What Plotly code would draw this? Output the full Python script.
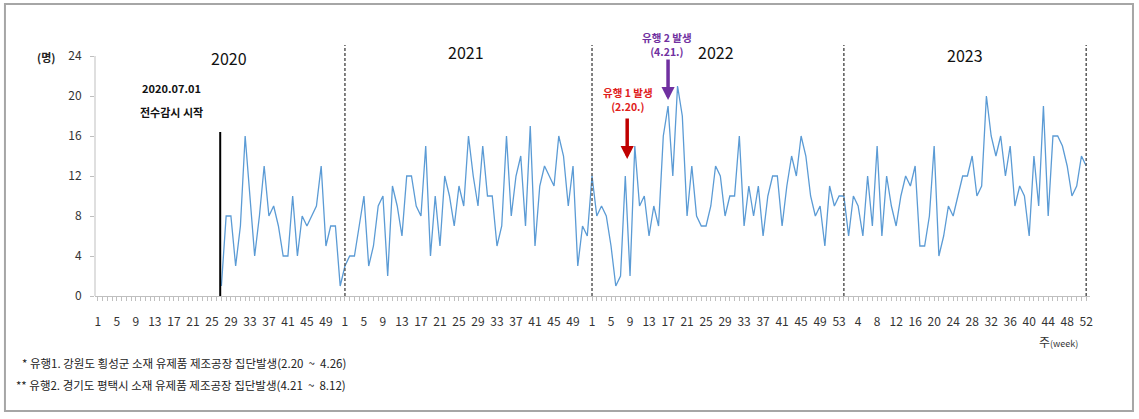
import plotly.graph_objects as go

# ---------------- data ----------------
years = ["2020", "2021", "2022", "2023"]
weeks_in_year = [52, 52, 53, 52]
first_week = [27, 1, 1, 1]          # 2020 surveillance starts at week 27

cases_2020 = [1, 8, 8, 3, 7, 16, 10, 4, 8, 13, 8, 9, 7, 4, 4, 10, 4, 8, 7, 8,
              9, 13, 5, 7, 7, 1]
cases_2021 = [3, 4, 4, 7, 10, 3, 5, 9, 10, 2, 11, 9, 6, 12, 12, 9, 8, 15, 4, 10,
              5, 12, 10, 7, 11, 9, 16, 12, 9, 15, 10, 10, 5, 7, 16, 8, 12, 14, 7, 17,
              5, 11, 13, 12, 11, 16, 14, 9, 13, 3, 7, 6]
cases_2022 = [12, 8, 9, 8, 5, 1, 2, 12, 2, 15, 9, 10, 6, 9, 7, 16, 19, 12, 21, 18,
              8, 13, 8, 7, 7, 9, 13, 12, 8, 10, 10, 16, 7, 11, 8, 11, 6, 10, 12, 12,
              7, 11, 14, 12, 16, 14, 10, 8, 9, 5, 11, 9, 10]
cases_2023 = [10, 6, 10, 9, 6, 12, 7, 15, 6, 12, 9, 7, 10, 12, 11, 13, 5, 5, 8, 15,
              4, 6, 9, 8, 10, 12, 12, 14, 10, 11, 20, 16, 14, 16, 12, 15, 9, 11, 10, 6,
              14, 9, 19, 8, 16, 16, 15, 13, 10, 11, 14, 13]
series = [cases_2020, cases_2021, cases_2022, cases_2023]

y_ticks = [0, 4, 8, 12, 16, 20, 24]
label_every = 4

# ---------------- build category positions ----------------
x_all, y_all = [], []
tickvals, ticktext = [], []
year_start = []
offset = 0
for n, fw, vals in zip(weeks_in_year, first_week, series):
    year_start.append(offset)
    for k, v in enumerate(vals):
        x_all.append(offset + (fw - 1) + k)
        y_all.append(v)
    for w in range(1, n + 1):
        idx = offset + w - 1
        tickvals.append(idx)
        ticktext.append(str(w) if idx % label_every == 0 else "")
    offset += n
last_idx = offset - 1

KR = "Noto Sans CJK KR"

fig = go.Figure()
fig.add_trace(go.Scatter(
    x=x_all, y=y_all, mode="lines",
    line=dict(color="#5B9BD5", width=1.3),
    hoverinfo="x+y", showlegend=False,
))

shapes = []
# year boundary dashed lines
for xs in year_start[1:] + [last_idx]:
    shapes.append(dict(type="line", xref="x", yref="y", x0=xs, x1=xs, y0=0, y1=25.1,
                       line=dict(color="#595959", width=1.5, dash="3px,2px")))
# start of full surveillance
shapes.append(dict(type="line", xref="x", yref="y", x0=25.75, x1=25.75, y0=0, y1=16.4,
                   line=dict(color="black", width=2)))
# y axis line (0..24 only)
shapes.append(dict(type="line", xref="paper", yref="y", x0=0, x1=0, y0=0, y1=24,
                   line=dict(color="#BFBFBF", width=1)))
# outer frame
shapes.append(dict(type="rect", xref="paper", yref="paper",
                   x0=-0.0905, x1=1.0432, y0=-0.458, y1=1.1633,
                   line=dict(color="#A6A6A6", width=2), fillcolor="rgba(0,0,0,0)"))

ann = []
ann.append(dict(xref="paper", yref="y", x=-0.049, y=23.9, xanchor="center", yanchor="middle",
                text="<b>(명)</b>", showarrow=False,
                font=dict(family=KR, size=11, color="#222")))
year_pos = [(27.5, 23.8), (77.5, 24.4), (130, 24.4), (182.5, 24.1)]
for yr, (xp, yp) in zip(years, year_pos):
    ann.append(dict(x=xp, y=yp, text=yr, showarrow=False, xanchor="center", yanchor="middle",
                    font=dict(family=KR, size=16, color="#111")))
ann.append(dict(x=15.5, y=20.8, text="<b>2020.07.01</b>", showarrow=False,
                xanchor="center", yanchor="middle",
                font=dict(family=KR, size=11, color="#111")))
ann.append(dict(x=15.5, y=18.4, text="<b>전수감시 시작</b>", showarrow=False,
                xanchor="center", yanchor="middle",
                font=dict(family=KR, size=11, color="#111")))
# outbreak 1
ann.append(dict(x=111.6, y=19.65, text="<b>유행 1 발생<br>(2.20.)</b>", showarrow=False,
                xanchor="center", yanchor="middle",
                font=dict(family=KR, size=10.5, color="#E0201B")))
ann.append(dict(x=111.4, y=13.7, text="", showarrow=True, ax=0, ay=-42,
                arrowhead=2, arrowsize=0.75, arrowwidth=3.5, arrowcolor="#C00000",
                standoff=0))
# outbreak 2 (text sits above the plot area -> paper y)
ann.append(dict(x=119.8, yref="paper", y=1.002, text="<b>유행 2 발생<br>(4.21.)</b>",
                showarrow=False, xanchor="center", yanchor="middle",
                font=dict(family=KR, size=10.5, color="#7030A0")))
ann.append(dict(x=120, y=19.6, text="", showarrow=True, ax=0, ay=-42,
                arrowhead=2, arrowsize=0.75, arrowwidth=3.5, arrowcolor="#7030A0",
                standoff=0))
# axis title
ann.append(dict(xref="paper", yref="paper", x=0.99, y=-0.182, xanchor="right", yanchor="middle",
                text="주<span style='font-size:9px'>(week)</span>", showarrow=False,
                font=dict(family=KR, size=12, color="#333")))
# footnotes
ann.append(dict(xref="paper", yref="paper", x=-0.0754, y=-0.267, xanchor="left", yanchor="middle",
                text="* 유행1. 강원도 횡성군 소재 유제품 제조공장 집단발생(2.20  ~  4.26)",
                showarrow=False, font=dict(family=KR, size=11.5, color="#222")))
ann.append(dict(xref="paper", yref="paper", x=-0.0814, y=-0.355, xanchor="left", yanchor="middle",
                text="** 유행2. 경기도 평택시 소재 유제품 제조공장 집단발생(4.21  ~  8.12)",
                showarrow=False, font=dict(family=KR, size=11.5, color="#222")))

fig.update_layout(
    width=1139, height=419,
    margin=dict(l=95, r=49, t=45, b=123, pad=0),
    paper_bgcolor="white", plot_bgcolor="white",
    shapes=shapes, annotations=ann,
    xaxis=dict(range=[-0.6, 208.8], tickmode="array", tickvals=tickvals, ticktext=ticktext,
               showgrid=False, zeroline=False, showline=True, linecolor="#BFBFBF", linewidth=1,
               ticks="outside", ticklen=4, tickcolor="#BFBFBF", tickwidth=1,
               ticklabelstandoff=11,
               tickfont=dict(family=KR, size=12, color="#333")),
    yaxis=dict(range=[0, 25.1], tickmode="array", tickvals=y_ticks,
               showgrid=False, zeroline=False, showline=False,
               ticks="outside", ticklen=4, tickcolor="#BFBFBF",
               ticklabelstandoff=6,
               tickfont=dict(family=KR, size=12, color="#333")),
)

fig.write_html("out.html", config={"displayModeBar": False},
               post_script="document.body.style.margin='0';")
